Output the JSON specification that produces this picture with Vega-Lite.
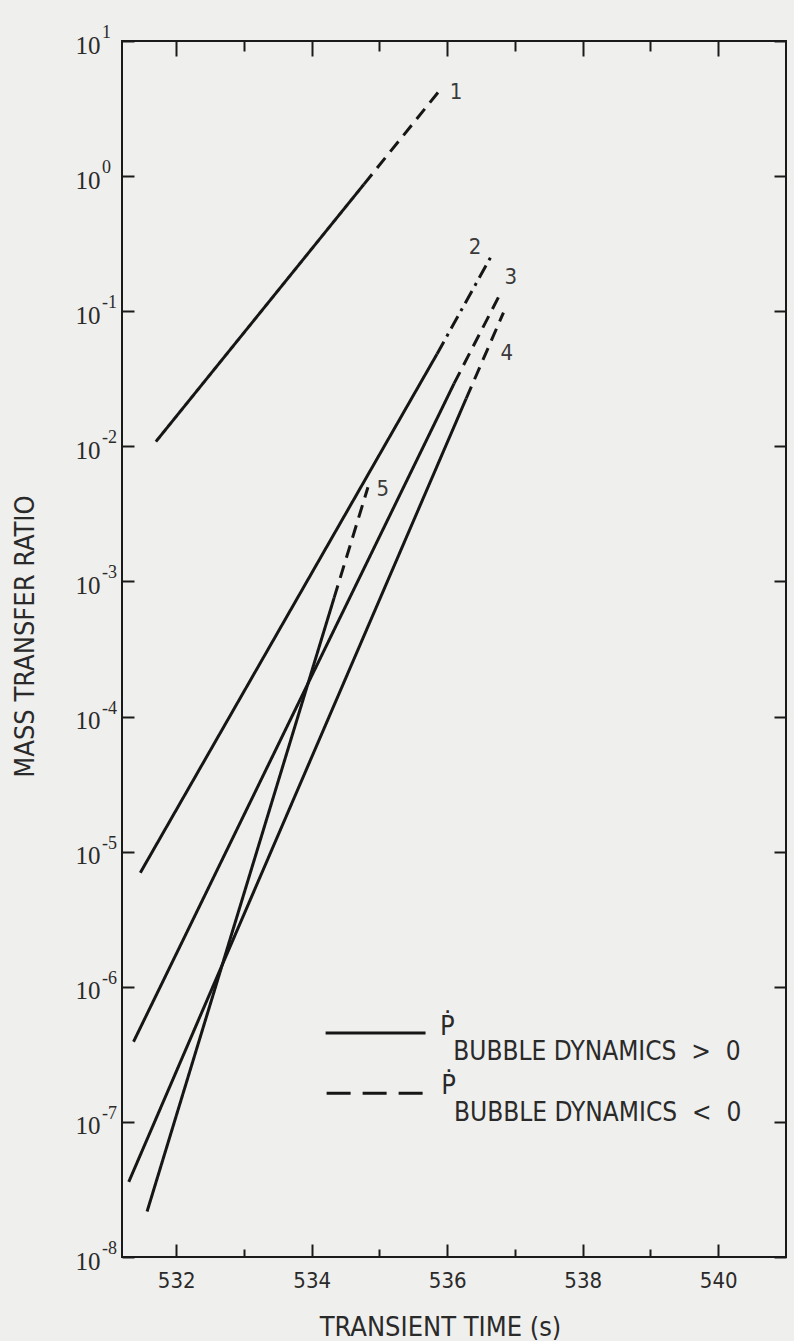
{
  "$schema": "https://vega.github.io/schema/vega-lite/v6.json",
  "autosize": {"type": "none"},
  "width": 664,
  "height": 1216,
  "padding": {"left": 122, "top": 41, "right": 8, "bottom": 84},
  "background": "#efefed",
  "config": {
    "view": {"stroke": "#1a1a1a", "strokeWidth": 2},
    "axis": {"domain": false, "grid": false, "tickColor": "#1a1a1a", "tickWidth": 2, "labelColor": "#2a2a2a", "titleColor": "#2a2a2a", "titleFontWeight": "normal"}
  },
  "datasets": {
    "lines": [
      {"seg": "1a", "style": "solid", "t": 531.70, "r": 0.01084},
      {"seg": "1a", "style": "solid", "t": 534.77, "r": 0.869},
      {"seg": "1b", "style": "dash", "t": 534.77, "r": 0.869},
      {"seg": "1b", "style": "dash", "t": 535.93, "r": 4.57},
      {"seg": "2a", "style": "solid", "t": 531.47, "r": 6.98e-6},
      {"seg": "2a", "style": "solid", "t": 535.85, "r": 0.0483},
      {"seg": "2b", "style": "dashdot", "t": 535.85, "r": 0.0483},
      {"seg": "2b", "style": "dashdot", "t": 536.66, "r": 0.261},
      {"seg": "3a", "style": "solid", "t": 531.37, "r": 3.92e-7},
      {"seg": "3a", "style": "solid", "t": 536.10, "r": 0.0291},
      {"seg": "3b", "style": "dash", "t": 536.10, "r": 0.0291},
      {"seg": "3b", "style": "dash", "t": 536.79, "r": 0.137},
      {"seg": "4a", "style": "solid", "t": 531.30, "r": 3.60e-8},
      {"seg": "4a", "style": "solid", "t": 536.28, "r": 0.0226},
      {"seg": "4b", "style": "dash", "t": 536.28, "r": 0.0226},
      {"seg": "4b", "style": "dash", "t": 536.83, "r": 0.0977},
      {"seg": "5a", "style": "solid", "t": 531.57, "r": 2.17e-8},
      {"seg": "5a", "style": "solid", "t": 534.33, "r": 7.55e-4},
      {"seg": "5b", "style": "dash", "t": 534.33, "r": 7.55e-4},
      {"seg": "5b", "style": "dash", "t": 534.83, "r": 4.98e-3},
      {"seg": "La", "style": "solid", "t": 534.205, "r": 4.54e-7},
      {"seg": "La", "style": "solid", "t": 535.68, "r": 4.54e-7},
      {"seg": "Lb", "style": "legenddash", "t": 534.22, "r": 1.63e-7},
      {"seg": "Lb", "style": "legenddash", "t": 535.67, "r": 1.63e-7}
    ],
    "labels": [
      {"lab": "1", "t": 536.13, "r": 4.22},
      {"lab": "2", "t": 536.41, "r": 0.298},
      {"lab": "3", "t": 536.94, "r": 0.178},
      {"lab": "4", "t": 536.88, "r": 0.0494},
      {"lab": "5", "t": 535.05, "r": 0.00483}
    ],
    "pdot": [
      {"lab": "Ṗ", "t": 536.0, "r": 5.08e-7},
      {"lab": "Ṗ", "t": 536.02, "r": 1.83e-7}
    ],
    "subs": [
      {"lab": "BUBBLE DYNAMICS\u00a0\u00a0>\u00a0\u00a00", "t": 536.09, "r": 3.27e-7},
      {"lab": "BUBBLE DYNAMICS\u00a0\u00a0<\u00a0\u00a00", "t": 536.10, "r": 1.156e-7}
    ],
    "exps": [
      {"e": "1", "r": 10},
      {"e": "0", "r": 1},
      {"e": "-1", "r": 0.1},
      {"e": "-2", "r": 0.01},
      {"e": "-3", "r": 0.001},
      {"e": "-4", "r": 0.0001},
      {"e": "-5", "r": 1e-5},
      {"e": "-6", "r": 1e-6},
      {"e": "-7", "r": 1e-7},
      {"e": "-8", "r": 1e-8}
    ]
  },
  "layer": [
    {
      "data": {"name": "lines"},
      "mark": {"type": "line", "strokeWidth": 3, "color": "#161616", "strokeCap": "butt"},
      "encoding": {
        "x": {
          "field": "t", "type": "quantitative",
          "scale": {"domain": [531.2, 541.0], "nice": false, "zero": false},
          "axis": {
            "orient": "bottom", "values": [532, 534, 536, 538, 540], "tickSize": -13, "labelPadding": 26,
            "labelBaseline": "top", "labelFont": "Liberation Sans Narrow, DejaVu Sans Condensed, sans-serif", "labelFontSize": 22,
            "title": "TRANSIENT TIME (s)", "titleFont": "Liberation Sans Narrow, DejaVu Sans Condensed, sans-serif", "titleFontSize": 27,
            "titleX": 318, "titleY": 70, "titleBaseline": "middle", "titleAlign": "center"
          }
        },
        "y": {
          "field": "r", "type": "quantitative",
          "scale": {"type": "log", "domain": [1e-8, 10], "nice": false},
          "axis": {
            "orient": "left", "values": [1e-8, 1e-7, 1e-6, 1e-5, 1e-4, 1e-3, 1e-2, 1e-1, 1, 10], "tickSize": -12, "labelPadding": 34,
            "labelExpr": "'10'",
            "labelFont": "Liberation Serif, DejaVu Serif, serif", "labelFontSize": 25, "labelOffset": 4,
            "title": "MASS TRANSFER RATIO", "titleFont": "Liberation Sans Narrow, DejaVu Sans Condensed, sans-serif", "titleFontSize": 27,
            "titleX": -97, "titleY": 595, "titleAngle": -90, "titleBaseline": "middle", "titleAlign": "center"
          }
        },
        "detail": {"field": "seg"},
        "strokeDash": {
          "field": "style", "type": "nominal", "legend": null,
          "scale": {"domain": ["solid", "dash", "dashdot", "legenddash"], "range": [[1, 0], [13, 8], [14, 6, 3, 6], [24, 12]]}
        }
      }
    },
    {
      "data": {"name": "labels"},
      "mark": {"type": "text", "font": "Liberation Sans Narrow, DejaVu Sans Condensed, sans-serif", "fontSize": 22, "color": "#3a3a3a", "align": "center", "baseline": "middle"},
      "encoding": {
        "x": {"field": "t", "type": "quantitative", "axis": {"orient": "top", "values": [532, 534, 536, 538, 540], "tickSize": -15, "labels": false, "title": null}},
        "y": {"field": "r", "type": "quantitative", "axis": {"orient": "right", "values": [1e-8, 1e-7, 1e-6, 1e-5, 1e-4, 1e-3, 1e-2, 1e-1, 1, 10], "tickSize": -12, "labels": false, "title": null}},
        "text": {"field": "lab"}
      }
    },
    {
      "data": {"name": "pdot"},
      "mark": {"type": "text", "font": "Liberation Sans Narrow, DejaVu Sans Condensed, sans-serif", "fontSize": 27, "color": "#2a2a2a", "align": "center", "baseline": "middle"},
      "encoding": {
        "x": {"field": "t", "type": "quantitative", "axis": {"orient": "bottom", "values": [533, 535, 537, 539], "tickSize": -8, "labels": false, "title": null}},
        "y": {"field": "r", "type": "quantitative", "axis": null},
        "text": {"field": "lab"}
      }
    },
    {
      "data": {"name": "subs"},
      "mark": {"type": "text", "font": "Liberation Sans Narrow, DejaVu Sans Condensed, sans-serif", "fontSize": 26, "color": "#2a2a2a", "align": "left", "baseline": "middle"},
      "encoding": {
        "x": {"field": "t", "type": "quantitative", "axis": {"orient": "top", "values": [533, 535, 537, 539], "tickSize": -10, "labels": false, "title": null}},
        "y": {"field": "r", "type": "quantitative", "axis": null},
        "text": {"field": "lab"}
      }
    },
    {
      "data": {"name": "exps"},
      "mark": {"type": "text", "font": "Liberation Serif, DejaVu Serif, serif", "fontSize": 18, "color": "#2a2a2a", "align": "left", "baseline": "middle", "dx": -20, "dy": -8},
      "encoding": {
        "x": {"datum": 531.2, "type": "quantitative", "axis": null},
        "y": {"field": "r", "type": "quantitative", "axis": null},
        "text": {"field": "e"}
      }
    }
  ],
  "resolve": {"axis": {"x": "independent", "y": "independent"}}
}
